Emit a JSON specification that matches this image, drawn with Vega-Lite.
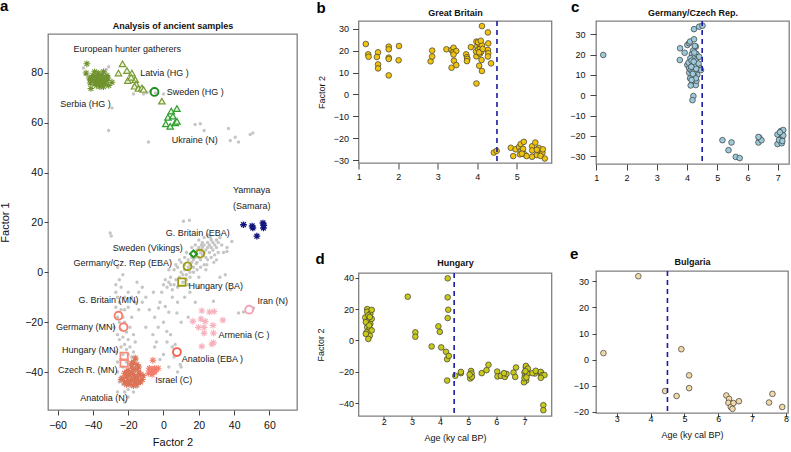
{
"$schema":"https://vega.github.io/schema/vega-lite/v6.json",
"autosize":"none",
"padding":{"left":48,"top":21,"right":743,"bottom":431},
"config":{
 "font":"Liberation Sans",
 "view":{"stroke":"#808080","strokeWidth":1.3},
 "axis":{"grid":false,"domain":false,"labelFont":"Liberation Sans","titleFont":"Liberation Sans","tickColor":"#444","labelColor":"#111","titleColor":"#111","titleFontWeight":"normal","labelFlush":false,"labelOverlap":false,"tickWidth":1},
 "title":{"anchor":"start","frame":"group","fontSize":15,"fontWeight":"bold","color":"#000","baseline":"alphabetic","font":"Liberation Sans"}
},
"datasets":{
"grayA":[
{"x":-32.4,"y":81.4},{"x":-33.5,"y":79},{"x":-31,"y":82.5},{"x":-34,"y":77.5},{"x":-45.3,"y":82},{"x":-44.3,"y":79.4},{"x":-33,"y":80.4},{"x":-29.2,"y":66},{"x":-31.1,"y":56.9},{"x":-17,"y":71.6},{"x":-11.3,"y":71.6},{"x":-7.5,"y":72.7},{"x":-9.4,"y":72.1},{"x":-4.5,"y":72},{"x":0,"y":71.6},{"x":-8.5,"y":52.3},{"x":17.9,"y":59.3},{"x":20.8,"y":59.6},{"x":23,"y":56.9},{"x":36.8,"y":57.7},{"x":37.8,"y":52.9},{"x":40.6,"y":54.2},{"x":42.5,"y":52.3},{"x":49.1,"y":55.3},{"x":50.6,"y":55.9},
{"x":-30.2,"y":15.8},{"x":-29.6,"y":14.6},{"x":11.3,"y":20.5},{"x":14.7,"y":20.9},{"x":38.7,"y":12.4},{"x":35.9,"y":8.4},
{"x":5,"y":-7},{"x":6,"y":-5},{"x":7,"y":-3},{"x":8,"y":-6},{"x":9,"y":-2},{"x":10,"y":0},{"x":11,"y":-1},{"x":12,"y":1},{"x":12,"y":3},{"x":13,"y":-1},{"x":14,"y":2},{"x":14,"y":5},{"x":15,"y":3},{"x":15,"y":0},{"x":16,"y":4},{"x":16,"y":6},{"x":17,"y":5},{"x":17,"y":2},{"x":18,"y":6},{"x":18,"y":8},{"x":19,"y":4},{"x":19,"y":9},{"x":20,"y":6},{"x":20,"y":10},{"x":21,"y":5},{"x":21,"y":8},{"x":22,"y":7},{"x":22,"y":10},{"x":22,"y":12},{"x":23,"y":8},{"x":23,"y":11},{"x":24,"y":9},{"x":24,"y":6},{"x":25,"y":10},{"x":25,"y":12},{"x":26,"y":8},{"x":26,"y":11},{"x":27,"y":13},{"x":27,"y":10},{"x":28,"y":9},{"x":28,"y":12},{"x":29,"y":11},{"x":30,"y":13},{"x":30,"y":10},{"x":31,"y":12},{"x":32,"y":14},{"x":33,"y":11},{"x":8,"y":2},{"x":6,"y":1},{"x":4,"y":-2},{"x":3,"y":-4},{"x":2,"y":-6},{"x":10,"y":4},{"x":12,"y":6},{"x":9,"y":5},{"x":13,"y":8},{"x":16,"y":10},{"x":18,"y":11},{"x":20,"y":13},{"x":23,"y":14},{"x":25,"y":15},{"x":11,"y":-4},{"x":13,"y":-3},{"x":15,"y":-2},{"x":17,"y":0},{"x":19,"y":1},{"x":21,"y":2},{"x":23,"y":3},{"x":25,"y":5},{"x":27,"y":6},{"x":29,"y":7},{"x":31,"y":8},{"x":3,"y":1},{"x":1,"y":-3},{"x":0,"y":-5},{"x":7,"y":3},{"x":14,"y":-5},{"x":24,"y":1},{"x":20,"y":-2},{"x":34,"y":8},{"x":36,"y":10},{"x":30,"y":5},{"x":18.5,"y":3.5},{"x":21.5,"y":11},{"x":26.5,"y":14},{"x":24.5,"y":3},{"x":28.5,"y":4},
{"x":-5.7,"y":-8},{"x":-2.8,"y":-14.3},{"x":1,"y":-13.7},{"x":1.9,"y":-23.7},{"x":6.6,"y":-29},{"x":7.6,"y":-16.3},{"x":9.5,"y":-37},{"x":28.3,"y":-11.6},{"x":28.3,"y":-15.7},{"x":42.5,"y":-16.3},{"x":45.3,"y":-15.9},{"x":51,"y":-14.3},{"x":-10,"y":-10},{"x":-8,"y":-15},{"x":-5,"y":-18},{"x":-3,"y":-22},{"x":0,"y":-20},{"x":2,"y":-28},{"x":4,"y":-25},{"x":-12,"y":-6},{"x":-15,"y":-4},{"x":-6,"y":-25},{"x":5,"y":-10},{"x":3,"y":-16},{"x":-1,"y":-8},{"x":-14,"y":-15},{"x":-10,"y":-22},{"x":-4,"y":-28},{"x":0,"y":-33},{"x":8,"y":-40},{"x":10,"y":-38},{"x":6,"y":-34},{"x":-2,"y":-12},{"x":4,"y":-5},{"x":8,"y":-12},{"x":12,"y":-10},{"x":15,"y":-8},{"x":20,"y":-6},{"x":38,"y":-7},{"x":32,"y":-2},{"x":35,"y":-1},{"x":18,"y":-12},{"x":10,"y":-20},{"x":14,"y":-18},{"x":5,"y":-30},{"x":-5,"y":-30},{"x":-2,"y":-35},{"x":3,"y":-38},
{"x":-27,"y":-8},{"x":-26,"y":-10},{"x":-25,"y":-12},{"x":-27,"y":-14},{"x":-24,"y":-15},{"x":-26,"y":-18},{"x":-23,"y":-18},{"x":-25,"y":-20},{"x":-22,"y":-20},{"x":-24,"y":-23},{"x":-21,"y":-24},{"x":-23,"y":-26},{"x":-25,"y":-27},{"x":-20,"y":-27},{"x":-22,"y":-29},{"x":-24,"y":-30},{"x":-19,"y":-30},{"x":-21,"y":-31},{"x":-23,"y":-33},{"x":-20,"y":-33},{"x":-18,"y":-34},{"x":-24,"y":-35},{"x":-21,"y":-36},{"x":-19,"y":-37},{"x":-23,"y":-38},{"x":-20,"y":-39},{"x":-17,"y":-39},{"x":-22,"y":-41},{"x":-24,"y":-42},{"x":-19,"y":-42},{"x":-21,"y":-44},{"x":-23,"y":-45},{"x":-18,"y":-45},{"x":-20,"y":-47},{"x":-22,"y":-48},{"x":-25,"y":-44},{"x":-26,"y":-40},{"x":-26,"y":-36},{"x":-27,"y":-32},{"x":-26,"y":-25},{"x":-28,"y":-22},{"x":-27,"y":-5},{"x":-24,"y":-6},{"x":-22,"y":-10},{"x":-20,"y":-14},{"x":-22,"y":-15},{"x":-18,"y":-18},{"x":-19,"y":-22},{"x":-17,"y":-25},{"x":-16,"y":-28},{"x":-17,"y":-32},{"x":-15,"y":-35},{"x":-16,"y":-38},{"x":-14,"y":-42},{"x":-15,"y":-46},{"x":-25,"y":-3},{"x":-23,"y":-1},{"x":-26,"y":2},{"x":-20,"y":-8},{"x":-18,"y":-10},{"x":-16,"y":-12},{"x":-14,"y":-8},{"x":-12,"y":-12},{"x":-26,"y":-48},{"x":-22,"y":-52},{"x":-20,"y":-50},{"x":-17,"y":-48}
],
"serbia":[{"x":-43.4,"y":83.7},{"x":-43.8,"y":80},{"x":-29.2,"y":76.3},{"x":-41.1,"y":73.8},{"x":-42,"y":78},{"x":-41,"y":77},{"x":-40,"y":79},{"x":-39,"y":76},{"x":-38,"y":78},{"x":-37,"y":80},{"x":-36,"y":77},{"x":-35,"y":79},{"x":-34,"y":76},{"x":-33,"y":78},{"x":-32,"y":77},{"x":-31,"y":75},{"x":-38,"y":75},{"x":-36,"y":74.5},{"x":-34,"y":80.5},{"x":-39,"y":80.5},{"x":-37,"y":76.5},{"x":-35,"y":77.5},{"x":-33,"y":76},{"x":-36,"y":79},{"x":-40,"y":77.5},{"x":-41.5,"y":76},{"x":-32,"y":79},{"x":-34,"y":74.5},{"x":-37,"y":78.5},{"x":-35,"y":75.5},{"x":-38.5,"y":77},{"x":-33.5,"y":77.5},{"x":-36.5,"y":75.5},{"x":-39.5,"y":78.5},{"x":-31.5,"y":78}],
"latvia":[{"x":-23.2,"y":83.7},{"x":-25.5,"y":80},{"x":-20.7,"y":81},{"x":-17.9,"y":80},{"x":-20.2,"y":77},{"x":-16,"y":77.4},{"x":-15.5,"y":75.6},{"x":-16.4,"y":74.7},{"x":-14.2,"y":73.8},{"x":-12.2,"y":74},{"x":-11.3,"y":73.4},{"x":-0.9,"y":68.7},{"x":-18.3,"y":78.3}],
"ukraine":[{"x":4.4,"y":64.7},{"x":7.6,"y":65.7},{"x":2.5,"y":62.2},{"x":5.3,"y":62.7},{"x":1.3,"y":59.6},{"x":3.8,"y":58.6},{"x":6.6,"y":60},{"x":7.6,"y":60.6}],
"yamnaya":[{"x":45.3,"y":19.1},{"x":50.6,"y":17.8},{"x":56.3,"y":19.8},{"x":56.6,"y":17.8},{"x":52.9,"y":14.5},{"x":50.2,"y":18.6},{"x":56.8,"y":18.9}],
"anatN":[{"x":-16,"y":-34.4},{"x":-17,"y":-36},{"x":-15,"y":-37},{"x":-18,"y":-38},{"x":-16,"y":-39},{"x":-20,"y":-39.5},{"x":-14,"y":-40},{"x":-19,"y":-41},{"x":-17,"y":-41},{"x":-21,"y":-42},{"x":-15,"y":-42},{"x":-23,"y":-42.5},{"x":-18,"y":-43},{"x":-20,"y":-43.5},{"x":-16,"y":-44},{"x":-22,"y":-44},{"x":-13,"y":-41},{"x":-12,"y":-43},{"x":-19,"y":-45},{"x":-17,"y":-45.5},{"x":-24,"y":-43},{"x":-21,"y":-40},{"x":-14,"y":-38},{"x":-18,"y":-40},{"x":-16,"y":-42},{"x":-20,"y":-41},{"x":-13,"y":-44},{"x":-22,"y":-40.5},{"x":-15,"y":-45},{"x":-11.5,"y":-41.5},{"x":-18,"y":-36.5},{"x":-19,"y":-44},{"x":-17,"y":-43},{"x":-21,"y":-45},{"x":-14,"y":-43.5}],
"israel":[{"x":-6,"y":-35.3},{"x":-8,"y":-38.5},{"x":-7,"y":-40},{"x":-6,"y":-39},{"x":-5,"y":-38.5},{"x":-4,"y":-39},{"x":-3,"y":-38.5},{"x":-8.5,"y":-40.5},{"x":-6.5,"y":-41},{"x":-5,"y":-40},{"x":-7.5,"y":-39}],
"armenia":[{"x":21.7,"y":-15.4},{"x":16.6,"y":-19.7},{"x":21.2,"y":-18.7},{"x":26,"y":-15.9},{"x":28.7,"y":-15.7},{"x":33.6,"y":-19.2},{"x":19.8,"y":-22.1},{"x":23,"y":-22.1},{"x":28,"y":-21.3},{"x":23,"y":-24.4},{"x":28.3,"y":-24.4},{"x":21.7,"y":-29.7},{"x":27.4,"y":-28.8},{"x":28.3,"y":-28.2},{"x":23.6,"y":-19.7}],
"hlCircle":[{"x":-5.1,"y":72.4,"g":"swedenHG"},{"x":20.8,"y":7.5,"g":"gbEBA"},{"x":13.6,"y":2.4,"g":"gerEBA"},{"x":-25.5,"y":-17.4,"g":"gbMN"},{"x":-22.6,"y":-22,"g":"gerMN"},{"x":7.6,"y":-32,"g":"anatEBA"},{"x":48.5,"y":-15,"g":"iran"}],
"hlSquare":[{"x":10.4,"y":-3.9,"g":"hunBA"},{"x":-22.3,"y":-33.7,"g":"hunMN"},{"x":-22.3,"y":-36.4,"g":"czMN"}],
"hlDiamond":[{"x":17,"y":7.4,"g":"vikings"}],
"labelsA":[
{"x":-51,"y":89.8,"t":"European hunter gatherers"},{"x":-13.2,"y":79.8,"t":"Latvia (HG )"},{"x":1.9,"y":72.4,"t":"Sweden (HG )"},{"x":-58.5,"y":67.7,"t":"Serbia (HG )"},{"x":4.7,"y":53.3,"t":"Ukraine (N)"},{"x":39.3,"y":33.2,"t":"Yamnaya"},{"x":39.3,"y":26.5,"t":"(Samara)"},{"x":1.3,"y":15.8,"t":"G. Britain (EBA)"},{"x":-28.7,"y":9.8,"t":"Sweden (Vikings)"},{"x":-51,"y":3.7,"t":"Germany/Cz. Rep (EBA)"},{"x":14.2,"y":-5.6,"t":"Hungary (BA)"},{"x":-48.1,"y":-11,"t":"G. Britain (MN)"},{"x":-60.9,"y":-22,"t":"Germany (MN)"},{"x":-57.5,"y":-31,"t":"Hungary (MN)"},{"x":-59.8,"y":-39.1,"t":"Czech R. (MN)"},{"x":-47.2,"y":-50.5,"t":"Anatolia (N)"},{"x":-4.7,"y":-43.4,"t":"Israel (C)"},{"x":10.4,"y":-34.7,"t":"Anatolia (EBA )"},{"x":31.1,"y":-25,"t":"Armenia (C )"},{"x":53.2,"y":-11.4,"t":"Iran (N)"}],
"gb":[{"x":1.18,"y":23},{"x":1.24,"y":18.3},{"x":1.25,"y":17.2},{"x":1.49,"y":19.2},{"x":1.46,"y":17.1},{"x":1.49,"y":13.7},{"x":1.49,"y":11.9},{"x":1.76,"y":21.8},{"x":1.76,"y":20.6},{"x":1.76,"y":16.8},{"x":1.76,"y":16.2},{"x":1.76,"y":8.7},{"x":2.02,"y":22.1},{"x":2.01,"y":15.6},{"x":2.82,"y":15.1},{"x":2.86,"y":20},{"x":2.86,"y":17.3},{"x":3.22,"y":20.6},{"x":3.35,"y":20.3},{"x":3.4,"y":21.3},{"x":3.39,"y":19.2},{"x":3.47,"y":19.8},{"x":3.4,"y":18.2},{"x":3.41,"y":15.4},{"x":3.35,"y":12.2},{"x":3.47,"y":13.4},{"x":3.72,"y":18.3},{"x":3.74,"y":17},{"x":3.75,"y":16.2},{"x":3.74,"y":15.2},{"x":3.84,"y":21.6},{"x":3.98,"y":5},{"x":3.98,"y":17.4},{"x":3.98,"y":24.1},{"x":4.05,"y":13.1},{"x":4.11,"y":15.7},{"x":4.12,"y":10.7},{"x":4.12,"y":31.2},{"x":4.27,"y":28.3},{"x":4.28,"y":23.3},{"x":4.27,"y":20.3},{"x":4.28,"y":18.8},{"x":4.27,"y":17.3},{"x":4.35,"y":14.2},{"x":4.07,"y":18.6},{"x":3.97,"y":19.6},{"x":4.0,"y":22},{"x":4.03,"y":20.5},{"x":4.06,"y":23},{"x":4.08,"y":21},{"x":4.1,"y":19.5},{"x":4.02,"y":23.8},{"x":4.12,"y":22.5},{"x":4.05,"y":19.2},{"x":4.14,"y":20.8},{"x":4.09,"y":24.5},{"x":4.42,"y":-26.5},{"x":4.49,"y":-25.7},{"x":4.85,"y":-24.3},{"x":4.91,"y":-28.1},{"x":4.97,"y":-25},{"x":5.06,"y":-23.9},{"x":5.1,"y":-22.6},{"x":5.18,"y":-21.6},{"x":5.14,"y":-26.2},{"x":5.2,"y":-27.3},{"x":5.25,"y":-28.1},{"x":5.39,"y":-23.6},{"x":5.39,"y":-25.5},{"x":5.47,"y":-21.9},{"x":5.39,"y":-28.4},{"x":5.51,"y":-27.6},{"x":5.54,"y":-25.5},{"x":5.56,"y":-24.4},{"x":5.65,"y":-26.6},{"x":5.66,"y":-25},{"x":5.71,"y":-29.2},{"x":5.51,"y":-25.2},{"x":5.08,"y":-27.3},{"x":5.12,"y":-25.5},{"x":5.16,"y":-24.8},{"x":5.13,"y":-27},{"x":5.6,"y":-28}],
"gc":[{"x":1.23,"y":19.8},{"x":3.77,"y":23.1},{"x":3.76,"y":17.3},{"x":3.92,"y":20.9},{"x":4.01,"y":24.7},{"x":4.07,"y":25.6},{"x":4.1,"y":26.4},{"x":4.23,"y":32.5},{"x":4.4,"y":33.7},{"x":4.51,"y":34.2},{"x":4.23,"y":27.5},{"x":4.29,"y":23.9},{"x":4.01,"y":14.9},{"x":4.07,"y":13.3},{"x":4.07,"y":11.1},{"x":4.1,"y":8.3},{"x":4.18,"y":6.2},{"x":4.29,"y":5},{"x":4.31,"y":7.1},{"x":4.21,"y":-0.4},{"x":4.18,"y":-2.4},{"x":4.4,"y":14},{"x":4.46,"y":12.4},{"x":4.16,"y":20.3},{"x":4.23,"y":18.9},{"x":4.29,"y":17},{"x":4.18,"y":15.8},{"x":4.11,"y":18.2},{"x":4.26,"y":14.4},{"x":4.34,"y":10},{"x":4.23,"y":9.5},{"x":4.12,"y":12.5},{"x":4.2,"y":22},{"x":4.31,"y":20.3},{"x":4.38,"y":15.6},{"x":4.4,"y":18.9},{"x":4.18,"y":11.7},{"x":4.29,"y":8.3},{"x":4.15,"y":7.5},{"x":4.26,"y":24.2},{"x":4.12,"y":4.8},{"x":4.05,"y":16},{"x":4.15,"y":17},{"x":4.22,"y":16.5},{"x":4.25,"y":12},{"x":4.19,"y":10.5},{"x":4.3,"y":13},{"x":4.14,"y":14},{"x":4.24,"y":21},{"x":5.17,"y":-22.1},{"x":5.37,"y":-27},{"x":5.47,"y":-23.2},{"x":5.61,"y":-30.3},{"x":5.74,"y":-30.9},{"x":6.36,"y":-23.2},{"x":6.39,"y":-20.9},{"x":6.46,"y":-22.1},{"x":6.36,"y":-20.5},{"x":6.99,"y":-19.3},{"x":6.99,"y":-24},{"x":7.1,"y":-17.6},{"x":7.18,"y":-17.1},{"x":7.13,"y":-20.9},{"x":7.13,"y":-23.6},{"x":7.04,"y":-22},{"x":7.18,"y":-19.8},{"x":7.07,"y":-18.2},{"x":7.15,"y":-22.5}],
"hu":[{"x":1.41,"y":20},{"x":1.41,"y":18.3},{"x":1.34,"y":14.7},{"x":1.52,"y":17},{"x":1.45,"y":12.7},{"x":1.52,"y":10.6},{"x":1.41,"y":8.5},{"x":1.5,"y":7.4},{"x":1.39,"y":5.3},{"x":1.5,"y":3.1},{"x":1.45,"y":1},{"x":1.57,"y":13.8},{"x":1.36,"y":11.7},{"x":1.48,"y":9.6},{"x":1.57,"y":6.4},{"x":1.57,"y":19.5},{"x":1.36,"y":4.2},{"x":1.45,"y":16},{"x":1.5,"y":15},{"x":2.85,"y":27.9},{"x":3.12,"y":5.2},{"x":3.12,"y":2.4},{"x":3.7,"y":-3.8},{"x":3.94,"y":9},{"x":3.99,"y":5.5},{"x":4.04,"y":-4.4},{"x":4.21,"y":-7.2},{"x":4.25,"y":-11.9},{"x":4.31,"y":-9.8},{"x":4.25,"y":-25.5},{"x":4.27,"y":39.6},{"x":4.27,"y":27.5},{"x":4.29,"y":19.6},{"x":4.27,"y":14.3},{"x":4.54,"y":-22.5},{"x":4.74,"y":-20.8},{"x":4.74,"y":-20},{"x":5.1,"y":-19.4},{"x":5.1,"y":-22.5},{"x":5.07,"y":-24.2},{"x":5.12,"y":-21},{"x":5.13,"y":-23.2},{"x":5.05,"y":-21.7},{"x":5.48,"y":-20.8},{"x":5.65,"y":-18.9},{"x":5.72,"y":-15.5},{"x":6.03,"y":-19.8},{"x":6.04,"y":-22.9},{"x":6.16,"y":-22.5},{"x":6.3,"y":-23.2},{"x":6.36,"y":-21.3},{"x":6.27,"y":-20.8},{"x":6.61,"y":-20.4},{"x":6.7,"y":-17.2},{"x":6.67,"y":-23.2},{"x":7.0,"y":-20.4},{"x":7.05,"y":-17.2},{"x":7.08,"y":-18.9},{"x":7.02,"y":-22.5},{"x":7.06,"y":-25.5},{"x":7.1,"y":-21.3},{"x":6.98,"y":-26.6},{"x":7.05,"y":-16.2},{"x":7.12,"y":-17.9},{"x":7.0,"y":-24},{"x":7.03,"y":-19.5},{"x":7.07,"y":-23.5},{"x":7.37,"y":-21},{"x":7.28,"y":-20.8},{"x":7.4,"y":-19.3},{"x":7.58,"y":-21.4},{"x":7.58,"y":-20},{"x":7.64,"y":-22},{"x":7.71,"y":-22},{"x":7.58,"y":-23.8},{"x":7.67,"y":-41.2},{"x":7.67,"y":-44.4}],
"bg":[{"x":2.61,"y":2.5},{"x":3.64,"y":31.9},{"x":4.43,"y":-12},{"x":4.77,"y":-13.9},{"x":4.91,"y":4},{"x":5.14,"y":-6},{"x":5.14,"y":-10.9},{"x":6.24,"y":-13.7},{"x":6.32,"y":-15},{"x":6.3,"y":-16.5},{"x":6.37,"y":-18.1},{"x":6.42,"y":-18.8},{"x":6.45,"y":-16.6},{"x":6.61,"y":-15.9},{"x":7.5,"y":-16.4},{"x":7.6,"y":-13.1},{"x":7.89,"y":-18.1}]
},
"spacing":16.5,
"hconcat":[
{"spacing":-24,"vconcat":[
 {"width":249,"height":1,"data":{"values":[]},"mark":"point","view":{"stroke":null}},
 {"width":249,"height":376,
  "title":{"text":"a","dx":-48,"offset":7.2},
  "resolve":{"axis":{"x":"independent"}},
  "layer":[
   {"data":{"name":"grayA"},"mark":{"type":"circle","color":"#c6c6c6","size":12,"opacity":1},
    "encoding":{
     "x":{"field":"x","type":"quantitative","scale":{"domain":[-65.4,75.6],"nice":false,"zero":false},"axis":{"values":[-60,-40,-20,0,20,40,60],"title":"Factor 2","labelFontSize":10.5,"titleFontSize":11,"tickSize":5,"labelPadding":5.6,"titleY":35,"titleBaseline":"alphabetic"}},
     "y":{"field":"y","type":"quantitative","scale":{"domain":[-55.25,95.65],"nice":false,"zero":false},"axis":{"values":[-40,-20,0,20,40,60,80],"title":"Factor 1","labelFontSize":10.5,"titleFontSize":11,"tickSize":4,"labelPadding":1.5,"titleX":-40,"titleBaseline":"alphabetic"}}}},
   {"data":{"name":"serbia"},"mark":{"type":"point","shape":"M-1,0L1,0M0,-1L0,1M-0.72,-0.72L0.72,0.72M-0.72,0.72L0.72,-0.72","filled":false,"color":"#71932f","strokeWidth":1.1,"size":45,"opacity":1},
    "encoding":{"x":{"field":"x","type":"quantitative","axis":null},"y":{"field":"y","type":"quantitative"}}},
   {"data":{"name":"latvia"},"mark":{"type":"point","shape":"triangle-up","filled":false,"color":"#789a33","fill":"#edf2dc","fillOpacity":1,"strokeWidth":1.2,"size":42,"opacity":1},
    "encoding":{"x":{"field":"x","type":"quantitative","axis":null},"y":{"field":"y","type":"quantitative"}}},
   {"data":{"name":"ukraine"},"mark":{"type":"point","shape":"triangle-up","filled":false,"color":"#2f9e2f","fill":"#e6f3e0","fillOpacity":1,"strokeWidth":1.2,"size":42,"opacity":1},
    "encoding":{"x":{"field":"x","type":"quantitative","axis":null},"y":{"field":"y","type":"quantitative"}}},
   {"data":{"name":"yamnaya"},"mark":{"type":"point","shape":"M-1,0L1,0M0,-1L0,1M-0.72,-0.72L0.72,0.72M-0.72,0.72L0.72,-0.72","filled":false,"color":"#15157f","strokeWidth":1.3,"size":45,"opacity":1},
    "encoding":{"x":{"field":"x","type":"quantitative","axis":null},"y":{"field":"y","type":"quantitative"}}},
   {"data":{"name":"anatN"},"mark":{"type":"point","shape":"M-1,0L1,0M0,-1L0,1M-0.72,-0.72L0.72,0.72M-0.72,0.72L0.72,-0.72","filled":false,"color":"#dc7256","strokeWidth":1.1,"size":45,"opacity":1},
    "encoding":{"x":{"field":"x","type":"quantitative","axis":null},"y":{"field":"y","type":"quantitative"}}},
   {"data":{"name":"israel"},"mark":{"type":"point","shape":"M-1,0L1,0M0,-1L0,1M-0.72,-0.72L0.72,0.72M-0.72,0.72L0.72,-0.72","filled":false,"color":"#f37e6e","strokeWidth":1.1,"size":45,"opacity":1},
    "encoding":{"x":{"field":"x","type":"quantitative","axis":null},"y":{"field":"y","type":"quantitative"}}},
   {"data":{"name":"armenia"},"mark":{"type":"point","shape":"M-1,0L1,0M0,-1L0,1M-0.72,-0.72L0.72,0.72M-0.72,0.72L0.72,-0.72","filled":false,"color":"#f6b3be","strokeWidth":1.1,"size":45,"opacity":1},
    "encoding":{"x":{"field":"x","type":"quantitative","axis":null},"y":{"field":"y","type":"quantitative"}}},
   {"data":{"name":"hlCircle"},"mark":{"type":"point","shape":"circle","filled":false,"strokeWidth":1.9,"size":62,"opacity":1},
    "encoding":{"x":{"field":"x","type":"quantitative","axis":null},"y":{"field":"y","type":"quantitative"},
     "color":{"field":"g","type":"nominal","legend":null,"scale":{"domain":["swedenHG","gbEBA","gerEBA","hunBA","vikings","gbMN","gerMN","hunMN","czMN","anatEBA","iran"],"range":["#1e901e","#9b9b12","#9b9b12","#9b9b12","#1a961a","#f47f6c","#f47f6c","#f58c7c","#f58c7c","#f2604e","#f7a3b5"]}}}},
   {"data":{"name":"hlSquare"},"mark":{"type":"point","shape":"square","filled":false,"strokeWidth":1.8,"size":55,"opacity":1},
    "encoding":{"x":{"field":"x","type":"quantitative","axis":null},"y":{"field":"y","type":"quantitative"},
     "color":{"field":"g","type":"nominal","legend":null,"scale":{"domain":["swedenHG","gbEBA","gerEBA","hunBA","vikings","gbMN","gerMN","hunMN","czMN","anatEBA","iran"],"range":["#1e901e","#9b9b12","#9b9b12","#9b9b12","#1a961a","#f47f6c","#f47f6c","#f58c7c","#f58c7c","#f2604e","#f7a3b5"]}}}},
   {"data":{"name":"hlDiamond"},"mark":{"type":"point","shape":"diamond","filled":false,"strokeWidth":2,"size":50,"opacity":1},
    "encoding":{"x":{"field":"x","type":"quantitative","axis":null},"y":{"field":"y","type":"quantitative"},
     "color":{"field":"g","type":"nominal","legend":null,"scale":{"domain":["swedenHG","gbEBA","gerEBA","hunBA","vikings","gbMN","gerMN","hunMN","czMN","anatEBA","iran"],"range":["#1e901e","#9b9b12","#9b9b12","#9b9b12","#1a961a","#f47f6c","#f47f6c","#f58c7c","#f58c7c","#f2604e","#f7a3b5"]}}}},
   {"data":{"name":"labelsA"},"mark":{"type":"text","align":"left","baseline":"middle","fontSize":9,"color":"#1a1a1a","font":"Liberation Sans"},
    "encoding":{"x":{"field":"x","type":"quantitative","axis":{"orient":"top","title":"Analysis of ancient samples","labels":false,"ticks":false,"domain":false,"titleFontWeight":"bold","titleFontSize":9,"titleY":-5.7,"titleBaseline":"alphabetic"}},"y":{"field":"y","type":"quantitative"},"text":{"field":"t"}}}
  ]}
]},
{"spacing":69,"vconcat":[
 {"width":193,"height":142,
  "title":{"text":"b","dx":-42,"offset":-7.6},
  "resolve":{"axis":{"x":"independent"}},
  "layer":[
   {"data":{"name":"gb"},"mark":{"type":"point","shape":"circle","filled":true,"fill":"#f0c30f","stroke":"#3a3a3a","strokeWidth":0.7,"size":32,"opacity":1},
    "encoding":{
     "x":{"field":"x","type":"quantitative","scale":{"domain":[0.995,5.88],"nice":false,"zero":false},"axis":{"values":[1,2,3,4,5],"title":null,"labelFontSize":9,"tickSize":6,"labelPadding":3.3}},
     "y":{"field":"y","type":"quantitative","scale":{"domain":[-31.24,33.5],"nice":false,"zero":false},"axis":{"values":[-30,-20,-10,0,10,20,30],"title":"Factor 2","labelFontSize":9,"titleFontSize":9,"tickSize":6,"labelPadding":4,"titleX":-34.5,"titleBaseline":"alphabetic"}}}},
   {"data":{"values":[{}]},"mark":{"type":"rule","color":"#1b1ba6","strokeDash":[5,4],"strokeWidth":1.6},
    "encoding":{"x":{"datum":4.5,"type":"quantitative","axis":{"orient":"top","title":"Great Britain","labels":false,"ticks":false,"domain":false,"titleFontWeight":"bold","titleFontSize":9,"titleY":-5.5,"titleBaseline":"alphabetic"}}}}
  ]},
 {"width":193,"height":143,
  "title":{"text":"d","dx":-43,"offset":-8.9},
  "resolve":{"axis":{"x":"independent"}},
  "layer":[
   {"data":{"name":"hu"},"mark":{"type":"point","shape":"circle","filled":true,"fill":"#c9c91c","stroke":"#3a3a3a","strokeWidth":0.7,"size":32,"opacity":1},
    "encoding":{
     "x":{"field":"x","type":"quantitative","scale":{"domain":[1.1,7.96],"nice":false,"zero":false},"axis":{"values":[2,3,4,5,6,7],"title":"Age (ky cal BP)","labelFontSize":9,"titleFontSize":9,"tickSize":3.5,"labelPadding":-2.5,"titleY":24.2,"titleBaseline":"alphabetic"}},
     "y":{"field":"y","type":"quantitative","scale":{"domain":[-48.1,43],"nice":false,"zero":false},"axis":{"values":[-40,-20,0,20,40],"title":"Factor 2","labelFontSize":9,"titleFontSize":9,"tickSize":3.5,"labelPadding":1.5,"titleX":-34.7,"titleBaseline":"alphabetic"}}}},
   {"data":{"values":[{}]},"mark":{"type":"rule","color":"#1b1ba6","strokeDash":[5,4],"strokeWidth":1.6},
    "encoding":{"x":{"datum":4.5,"type":"quantitative","axis":{"orient":"top","title":"Hungary","labels":false,"ticks":false,"domain":false,"titleFontWeight":"bold","titleFontSize":9,"titleY":-7.5,"titleBaseline":"alphabetic"}}}}
  ]}
]},
{"spacing":62,"vconcat":[
 {"width":193,"height":143,
  "title":{"text":"c","dx":-25,"offset":-6.3},
  "resolve":{"axis":{"x":"independent"}},
  "layer":[
   {"data":{"name":"gc"},"mark":{"type":"point","shape":"circle","filled":true,"fill":"#9ccadb","stroke":"#3a3a3a","strokeWidth":0.7,"size":32,"opacity":1},
    "encoding":{
     "x":{"field":"x","type":"quantitative","scale":{"domain":[0.99,7.37],"nice":false,"zero":false},"axis":{"values":[1,2,3,4,5,6,7],"title":null,"labelFontSize":9,"tickSize":6,"labelPadding":3.3}},
     "y":{"field":"y","type":"quantitative","scale":{"domain":[-33.8,36.5],"nice":false,"zero":false},"axis":{"values":[-30,-20,-10,0,10,20,30],"title":null,"labelFontSize":9,"tickSize":6,"labelPadding":5}}}},
   {"data":{"values":[{}]},"mark":{"type":"rule","color":"#1b1ba6","strokeDash":[5,4],"strokeWidth":1.6},
    "encoding":{"x":{"datum":4.5,"type":"quantitative","axis":{"orient":"top","title":"Germany/Czech Rep.","labels":false,"ticks":false,"domain":false,"titleFontWeight":"bold","titleFontSize":9,"titleY":-5.5,"titleBaseline":"alphabetic"}}}}
  ]},
 {"width":192,"height":142,
  "title":{"text":"e","dx":-26,"offset":-4.6},
  "resolve":{"axis":{"x":"independent"}},
  "layer":[
   {"data":{"name":"bg"},"mark":{"type":"point","shape":"circle","filled":true,"fill":"#f2d9a8","stroke":"#3a3a3a","strokeWidth":0.7,"size":32,"opacity":1},
    "encoding":{
     "x":{"field":"x","type":"quantitative","scale":{"domain":[2.39,8.06],"nice":false,"zero":false},"axis":{"values":[3,4,5,6,7,8],"title":"Age (ky cal BP)","labelFontSize":9,"titleFontSize":9,"tickSize":4,"labelPadding":-2.5,"titleY":24.2,"titleBaseline":"alphabetic"}},
     "y":{"field":"y","type":"quantitative","scale":{"domain":[-20.4,33.9],"nice":false,"zero":false},"axis":{"values":[-20,-10,0,10,20,30],"title":null,"labelFontSize":9,"tickSize":4,"labelPadding":3.5}}}},
   {"data":{"values":[{}]},"mark":{"type":"rule","color":"#1b1ba6","strokeDash":[5,4],"strokeWidth":1.6},
    "encoding":{"x":{"datum":4.5,"type":"quantitative","axis":{"orient":"top","title":"Bulgaria","labels":false,"ticks":false,"domain":false,"titleFontWeight":"bold","titleFontSize":9,"titleY":-7,"titleBaseline":"alphabetic"}}}}
  ]}
]}
]
}
